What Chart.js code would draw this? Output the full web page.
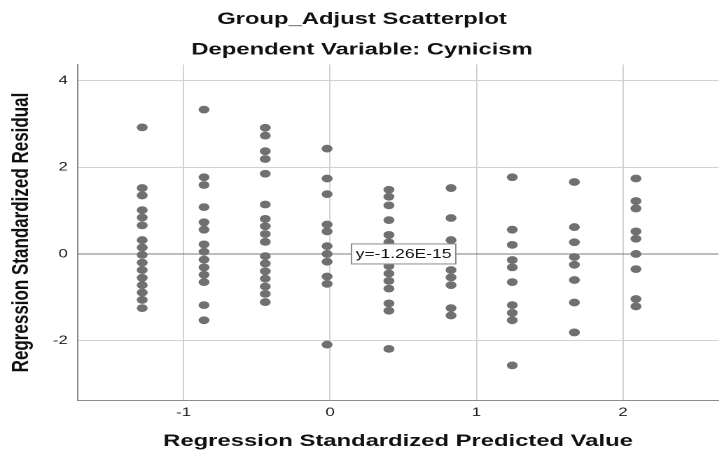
<!DOCTYPE html>
<html>
<head>
<meta charset="utf-8">
<script src="https://cdn.jsdelivr.net/npm/chart.js@4.4.1/dist/chart.umd.min.js"></script>
<style>
  html, body { margin: 0; padding: 0; background: #fff; overflow: hidden; }
  /* the reference picture is stretched sideways, so the chart is drawn narrow and widened */
  #wrap { position: absolute; left: 0; top: 0; width: 517px; height: 454px;
          transform: scaleX(1.4004); transform-origin: 0 0; }
</style>
</head>
<body>
<div id="wrap"><canvas id="residualChart"></canvas></div>
<script>
// predicted value groups (x) and the residuals read in each group (y)
const predicted = [-1.282, -0.860, -0.442, -0.020, 0.402, 0.826, 1.244, 1.668, 2.088];
const residuals = [
  [2.92, 1.52, 1.35, 1.01, 0.84, 0.66, 0.32, 0.15, -0.02, -0.20, -0.37, -0.55, -0.72, -0.89, -1.06, -1.25],
  [3.33, 1.77, 1.59, 1.08, 0.73, 0.56, 0.22, 0.05, -0.13, -0.31, -0.48, -0.65, -1.18, -1.53],
  [2.91, 2.73, 2.37, 2.19, 1.85, 1.14, 0.81, 0.64, 0.46, 0.28, -0.05, -0.22, -0.40, -0.57, -0.75, -0.92, -1.11],
  [2.43, 1.74, 1.38, 0.68, 0.52, 0.18, 0.00, -0.18, -0.52, -0.69, -2.09],
  [1.48, 1.32, 1.12, 0.78, 0.44, 0.27, -0.28, -0.45, -0.62, -0.80, -1.14, -1.31, -2.19],
  [1.52, 0.83, 0.32, -0.37, -0.54, -0.72, -1.25, -1.42],
  [1.77, 0.56, 0.21, -0.14, -0.31, -0.65, -1.18, -1.36, -1.53, -2.57],
  [1.66, 0.62, 0.27, -0.07, -0.25, -0.60, -1.12, -1.81],
  [1.74, 1.22, 1.05, 0.52, 0.35, 0.00, -0.35, -1.04, -1.21]
];
const xTicks = [-1, 0, 1, 2];
const yTicks = [-2, 0, 2, 4];
const xRange = [-1.723, 2.652];
const yRange = [-3.38, 4.37];
const fitValue = -1.26e-15;
const fitLabel = 'y=-1.26E-15';
const fitLabelX = 0.142;

const points = [];
predicted.forEach((px, i) => {
  residuals[i].forEach(r => points.push({ x: px, y: r }));
});

const fitLabelPlugin = {
  id: 'fitLabel',
  afterDatasetsDraw(chart) {
    const { ctx, scales } = chart;
    const x = scales.x.getPixelForValue(fitLabelX);
    const y = scales.y.getPixelForValue(fitValue);
    ctx.save();
    ctx.font = '12.5px "Liberation Sans", Arial, sans-serif';
    const w = ctx.measureText(fitLabel).width + 7;
    const h = 21;
    ctx.fillStyle = '#ffffff';
    ctx.fillRect(x, y - h / 2, w, h);
    ctx.strokeStyle = '#8a8a8a';
    ctx.lineWidth = 1;
    ctx.strokeRect(x + 0.5, y - h / 2 + 0.5, w - 1, h - 1);
    ctx.fillStyle = '#111';
    ctx.textBaseline = 'middle';
    ctx.fillText(fitLabel, x + 3.5, y + 0.5);
    ctx.restore();
  }
};

const titleFont = { family: '"Liberation Sans", Arial, sans-serif', size: 17, weight: 'bold' };
const tickFont = { family: '"Liberation Sans", Arial, sans-serif', size: 12 };

new Chart(document.getElementById('residualChart'), {
  type: 'scatter',
  data: {
    datasets: [
      {
        data: points,
        backgroundColor: '#707070',
        borderWidth: 0,
        pointRadius: 3.9,
        pointHoverRadius: 3.9
      },
      {
        type: 'line',
        data: [{ x: xRange[0], y: fitValue }, { x: xRange[1], y: fitValue }],
        borderColor: '#7a7a7a',
        borderWidth: 1,
        pointRadius: 0,
        fill: false
      }
    ]
  },
  options: {
    responsive: true,
    maintainAspectRatio: false,
    animation: false,
    devicePixelRatio: 2,
    layout: { padding: 0 },
    plugins: {
      legend: { display: false },
      tooltip: { enabled: false },
      title: {
        display: true,
        text: 'Group_Adjust Scatterplot',
        color: '#111',
        font: titleFont,
        padding: { top: 9, bottom: 0 }
      },
      subtitle: {
        display: true,
        text: 'Dependent Variable: Cynicism',
        color: '#111',
        font: titleFont,
        padding: { top: 10, bottom: 4.7 }
      }
    },
    scales: {
      x: {
        type: 'linear',
        min: xRange[0],
        max: xRange[1],
        afterBuildTicks: s => { s.ticks = xTicks.map(v => ({ value: v })); },
        afterFit: s => { s.height = 53.5; },
        grid: { color: '#d2d2d2', drawTicks: false },
        border: { display: true, color: '#8c8c8c' },
        ticks: { font: tickFont, color: '#222', padding: 5 },
        title: {
          display: true,
          text: 'Regression Standardized Predicted Value',
          color: '#111',
          font: titleFont,
          padding: { top: 0, bottom: 2.5 }
        }
      },
      y: {
        type: 'linear',
        min: yRange[0],
        max: yRange[1],
        afterBuildTicks: s => { s.ticks = yTicks.map(v => ({ value: v })); },
        afterFit: s => { s.width = 55.4; },
        grid: { color: '#d2d2d2', drawTicks: false },
        border: { display: true, color: '#8c8c8c' },
        ticks: { font: tickFont, color: '#222', padding: 7 },
        title: {
          display: true,
          text: 'Regression Standardized Residual',
          color: '#111',
          font: titleFont,
          padding: { top: 5, bottom: 0 }
        }
      }
    }
  },
  plugins: [fitLabelPlugin]
});
</script>
</body>
</html>
